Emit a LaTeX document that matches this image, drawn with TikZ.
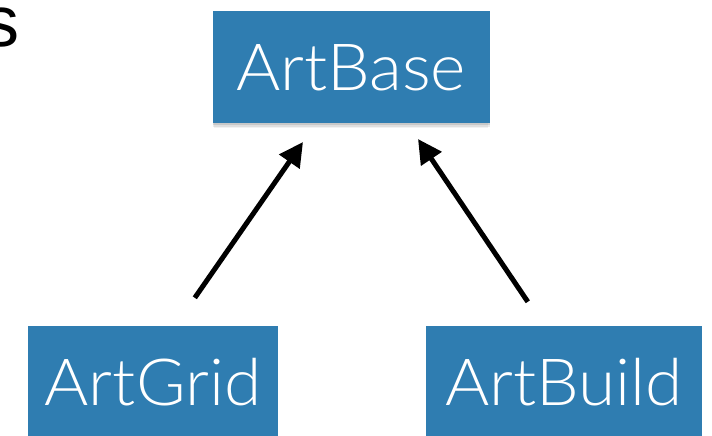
\documentclass[tikz,border=0pt]{standalone}
\usepackage{fontspec}
\IfFontExistsTF{Lato Light}{\setmainfont{Lato Light}[FakeStretch=1.04]}{\setmainfont{Liberation Sans}}
\newfontfamily\helv{Liberation Sans}
\usetikzlibrary{arrows.meta,shadows,calc}
\definecolor{boxblue}{RGB}{47,125,177}
\tikzset{
  classbox/.style={fill=boxblue, text=white, inner sep=0pt,
    minimum height=112pt, text height=46pt, text depth=0pt,
    font=\fontsize{65}{65}\selectfont,
    general shadow={shadow xshift=0pt, shadow yshift=-2pt, fill=black, opacity=0.10},
    general shadow={shadow xshift=0pt, shadow yshift=-4pt, fill=black, opacity=0.08},
    general shadow={shadow xshift=0pt, shadow yshift=-6pt, shadow scale=0.99, fill=black, opacity=0.05}},
  inherit/.style={line width=5pt, -{Triangle[length=24pt,width=24pt]}}
}
\begin{document}
\begin{tikzpicture}[x=1pt,y=-1pt]
\useasboundingbox (0,0) rectangle (712,436);
\node[anchor=base east, inner sep=0pt, font=\helv\fontsize{72}{72}\selectfont] (cut) at (20,47) {s};
\node[classbox, minimum width=277pt] (base) at (351,67) {ArtBase};
\node[classbox, minimum width=250pt] (grid) at (153,382) {ArtGrid};
\node[classbox, minimum width=276pt] (build) at (564,382) {ArtBuild};
\coordinate (g1) at ($(grid.north west)+(167,-28)$);
\coordinate (b1) at ($(build.north west)+(102,-24)$);
\coordinate (t1) at (303,142);
\coordinate (t2) at (418,139);
\draw[inherit] (g1) -- (t1);
\draw[inherit] (b1) -- (t2);
\end{tikzpicture}
\end{document}
